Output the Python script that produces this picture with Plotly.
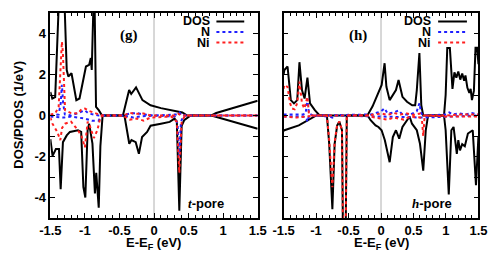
import plotly.graph_objects as go

# ---------------- panel (g): t-pore ----------------
g_dos_up_e = [-1.5, -1.472, -1.43, -1.372, -1.30, -1.263, -1.24, -1.194, -1.124, -1.078, -0.985, -0.939,
              -0.915, -0.901, -0.872, -0.862, -0.839, -0.80, -0.752, -0.45, -0.40, -0.36, -0.33, -0.26,
              -0.167, -0.05, 0.1, 0.25, 0.41, 0.48, 0.83, 0.9, 1.2, 1.5]
g_dos_up_v = [1.15, 0.83, 0.9, 6, 6, 2.22, 1.9, 2.06, 0.75, 0.83, 2.39, 2.47,
              2.8, 2.22, 6, 6, 0.42, 0.26, 0, 0, 0.7, 1.24, 1.05, 1.37,
              0.75, 0.5, 0.36, 0.26, 0.15, 0, 0, 0.12, 0.42, 0.72]
g_dos_dn_e = [-1.5, -1.468, -1.42, -1.375, -1.351, -1.329, -1.318, -1.263, -1.217, -1.1, -1.054, -1.022,
              -0.994, -0.961, -0.939, -0.891, -0.855, -0.836, -0.8, -0.776, -0.744, -0.428, -0.358, -0.326,
              -0.265, -0.219, -0.173, -0.1, -0.05, 0.1, 0.227, 0.297, 0.33, 0.366, 0.40, 0.436, 0.53,
              0.83, 1.0, 1.2, 1.5]
g_dos_dn_v = [-1.15, -1.97, -1.64, -1.64, -3.6, -1.47, -1.3, -0.97, -0.8, -0.72, -0.8, -3.5,
              -4.0, -0.72, -0.4, -1.37, -3.8, -2.8, -4.5, -1.5, 0, 0, -1.38, -1.2,
              -1.3, -1.87, -1.05, -0.8, -0.5, -0.4, -0.31, -0.15, -0.3, -4.65, -0.5, -0.23, 0,
              0, -0.17, -0.38, -0.65]
g_n_up_e = [-1.5, -1.38, -1.35, -1.333, -1.315, -1.29, -1.2, -1.05, -1.0, -0.95, -0.8, -0.45, -0.35,
            -0.25, -0.15, 0.0, 0.33, 0.37, 0.40, 1.5]
g_n_up_v = [0.0, 0.05, 0.6, 1.5, 0.6, 0.05, 0.0, 0.2, 0.25, 0.1, 0, 0, 0.1,
            0.12, 0.05, 0, 0.05, 0.15, 0, 0]
g_ni_up_e = [-1.5, -1.43, -1.38, -1.347, -1.333, -1.319, -1.30, -1.287, -1.2, -1.1, -1.05, -1.0, -0.94,
             -0.85, -0.75, -0.45, -0.35, -0.25, -0.15, -0.05, 0.3, 0.35, 0.4, 1.5]
g_ni_up_v = [0.05, 0.1, 0.42, 2.4, 3.6, 3.1, 1.08, 0.26, 0.12, 0.1, 0.3, 0.34, 0.22,
             0.1, 0, 0, 0.12, 0.08, 0.1, 0.0, 0, 0.08, 0, 0]
g_n_dn_e = [-1.5, -1.3, -1.2, -1.1, -1.0, -0.9, -0.8, -0.77, -0.74, -0.45, -0.3, -0.2, 0.0, 0.3,
            0.34, 0.366, 0.39, 0.43, 1.5]
g_n_dn_v = [-0.05, -0.1, -0.05, -0.1, -0.15, -0.25, -0.25, -0.05, 0, 0, -0.1, -0.05, 0, -0.05,
            -0.4, -2.0, -0.3, 0, 0]
g_ni_dn_e = [-1.5, -1.47, -1.40, -1.356, -1.33, -1.287, -1.2, -1.1, -1.05, -1.0, -0.96, -0.93, -0.87,
             -0.82, -0.776, -0.74, -0.45, -0.35, -0.25, -0.15, -0.05, 0.25, 0.33, 0.366, 0.40, 0.45, 1.5]
g_ni_dn_v = [-0.1, -0.4, -0.8, -1.2, -0.6, -0.4, -0.3, -0.72, -1.0, -1.55, -0.3, -0.5, -1.1,
             -0.72, -0.1, 0, 0, -0.2, -0.15, -0.25, -0.1, -0.05, -0.3, -2.8, -0.3, 0, 0]

# ---------------- panel (h): h-pore ----------------
h_dos_up_e = [-1.5, -1.488, -1.439, -1.389, -1.34, -1.29, -1.256, -1.217, -1.177, -1.133, -1.093, -1.019,
              -0.945, -0.21, -0.13, -0.04, 0.01, 0.055, 0.083, 0.133, 0.23, 0.27, 0.33, 0.40, 0.48, 0.526,
              0.551, 0.591, 0.62, 0.65, 0.97, 0.995, 1.02, 1.06, 1.10, 1.13, 1.16, 1.19, 1.22, 1.25, 1.28,
              1.30, 1.33, 1.36, 1.38, 1.40, 1.43, 1.455, 1.48, 1.5]
h_dos_up_v = [2.0, 2.22, 2.39, 0.75, 0.59, 0.75, 2.6, 1.24, 0.83, 1.85, 0.59, 0.26,
              0, 0, 0.45, 1.08, 1.49, 2.55, 1.4, 0.75, 1.24, 1.73, 0.91, 0.67, 0.5, 0.5,
              1.24, 3.05, 0.5, 0, 0, 1.0, 3.29, 3.29, 1.3, 2.1, 1.85, 2.15, 1.75, 2.05, 1.7,
              1.95, 1.35, 1.1, 1.3, 0.75, 1.2, 3.3, 3.3, 2.5]
h_dos_dn_e = [-1.5, -1.487, -1.266, -1.167, -1.12, -1.05, -0.995, -0.833, -0.798, -0.749, -0.714, -0.675,
              -0.641, -0.601, -0.585, -0.545, -0.527, -0.207, -0.16, -0.084, -0.04, 0.009, 0.059, 0.133,
              0.182, 0.23, 0.28, 0.33, 0.403, 0.44, 0.477, 0.551, 0.6, 0.65, 0.689, 0.724, 0.97, 0.995,
              1.043, 1.083, 1.117, 1.167, 1.19, 1.216, 1.25, 1.29, 1.338, 1.412, 1.462, 1.486, 1.5]
h_dos_dn_v = [-0.75, -0.72, -0.48, -0.31, -0.2, -0.1, 0, 0, -1.38, -4.57, -1.38, -0.48,
              -0.31, -0.72, -6, -6, 0, 0, -0.23, -0.48, -0.56, -0.72, -1.21, -2.28,
              -1.05, -0.72, -1.13, -0.56, -0.23, -0.05, -0.4, -0.72, -1.38, -2.69, -0.72, 0, 0, -0.72,
              -3.85, -0.72, -0.56, -1.87, -1.2, -1.7, -1.4, -1.5, -0.88, -0.72, -3.4, -1.37, -1.0]
h_n_up_e = [-1.5, -1.2, -1.16, -1.133, -1.11, -1.05, -0.15, 0.0, 0.055, 0.1, 0.2, 0.27, 0.33, 0.45,
            0.55, 0.591, 0.62, 0.65, 1.0, 1.05, 1.1, 1.2, 1.3, 1.4, 1.5]
h_n_up_v = [0.05, 0.05, 0.1, 0.83, 0.1, 0.0, 0.05, 0.2, 0.35, 0.1, 0.15, 0.25, 0.05, 0.05,
            0.2, 0.6, 0.1, 0, 0.05, 0.15, 0.05, 0.1, 0.05, 0.12, 0.05]
h_ni_up_e = [-1.5, -1.488, -1.44, -1.40, -1.37, -1.33, -1.29, -1.256, -1.217, -1.18, -1.133, -1.11,
             -1.08, -0.2, -0.1, 0.0, 0.1, 0.2, 0.3, 0.4, 0.5, 0.6, 0.65, 1.0, 1.2, 1.4, 1.5]
h_ni_up_v = [1.3, 1.49, 1.4, 0.6, 0.34, 0.3, 0.6, 1.65, 0.6, 0.34, 0.91, 0.1,
             0, 0, 0.05, 0.1, 0.03, 0.12, 0.05, 0.1, 0.03, 0.1, 0, 0, 0.05, 0.03, 0.05]
h_n_dn_e = [-1.5, -1.2, -1.15, -1.133, -1.11, -1.0, -0.8, -0.75, -0.7, 0.0, 0.65, 1.5]
h_n_dn_v = [-0.05, -0.05, -0.1, -0.3, -0.05, 0, -0.05, -0.1, 0, -0.05, -0.1, 0]
h_ni_dn_e = [-1.5, -1.3, -1.15, -1.0, -0.833, -0.798, -0.749, -0.714, -0.675, -0.641, -0.601, -0.585,
             -0.545, -0.527, -0.2, -0.1, 0.0, 0.1, 0.2, 0.35, 0.45, 0.6, 0.63, 0.65, 0.67, 0.7, 1.0, 1.5]
h_ni_dn_v = [-0.05, -0.1, -0.05, 0, 0, -1.2, -3.5, -1.3, -0.45, -0.3, -0.7, -6,
             -6, 0, 0, -0.1, -0.15, -0.2, -0.1, -0.2, -0.05, -0.1, -0.2, -1.0, -0.1, 0, -0.05, -0.05]

x_ticks = [-1.5, -1, -0.5, 0, 0.5, 1, 1.5]
x_tick_text = ["-1.5", "-1", "-0.5", "0", "0.5", "1", "1.5"]
y_ticks = [-4, -2, 0, 2, 4]
y_tick_text = ["-4", "-2", "0", "2", "4"]

BLACK = "#000000"
BLUE = "#1f1fff"
RED = "#ff1f1f"
W = 498
H = 264

fig = go.Figure()

panels = [
    ("x", "y", [(g_dos_up_e, g_dos_up_v, g_dos_dn_e, g_dos_dn_v, BLACK, "solid", 2.0),
                (g_n_up_e, g_n_up_v, g_n_dn_e, g_n_dn_v, BLUE, "dot", 2.0),
                (g_ni_up_e, g_ni_up_v, g_ni_dn_e, g_ni_dn_v, RED, "dot", 2.0)]),
    ("x2", "y2", [(h_dos_up_e, h_dos_up_v, h_dos_dn_e, h_dos_dn_v, BLACK, "solid", 2.0),
                  (h_n_up_e, h_n_up_v, h_n_dn_e, h_n_dn_v, BLUE, "dot", 2.0),
                  (h_ni_up_e, h_ni_up_v, h_ni_dn_e, h_ni_dn_v, RED, "dot", 2.0)]),
]
for xa, ya, series in panels:
    for ue, uv, de, dv, col, dash, wid in series:
        for ex, vv in ((ue, uv), (de, dv)):
            fig.add_trace(go.Scatter(x=ex, y=vv, mode="lines", xaxis=xa, yaxis=ya,
                                     line=dict(color=col, width=wid, dash=dash),
                                     showlegend=False, hoverinfo="skip"))

tickfont = dict(family="Liberation Sans, Arial, sans-serif", size=13, color="black", weight="bold")
ydom = [1 - 218 / H, 1 - 13 / H]
common_x = dict(range=[-1.5, 1.5], tickmode="array", tickvals=x_ticks, ticktext=x_tick_text,
                ticks="inside", ticklen=5, tickwidth=1, tickcolor="black", mirror="allticks",
                showline=True, linecolor="black", linewidth=1.5, showgrid=False, zeroline=False,
                tickfont=tickfont, minor=dict(dtick=0.1, ticks="inside", ticklen=3, tickcolor="black"))
common_y = dict(range=[-5, 5], tickmode="array", tickvals=y_ticks, ticktext=y_tick_text,
                ticks="inside", ticklen=5, tickwidth=1, tickcolor="black", mirror="allticks",
                showline=True, linecolor="black", linewidth=1.5, showgrid=False, zeroline=False,
                tickfont=tickfont, domain=ydom,
                minor=dict(tickvals=[-5, -3, -1, 1, 3, 5], ticks="inside", ticklen=5, tickcolor="black"))

fig.update_layout(
    width=W, height=H, margin=dict(l=0, r=0, t=0, b=0),
    paper_bgcolor="white", plot_bgcolor="white",
    xaxis=dict(domain=[41 / W, 257 / W], anchor="y", **common_x),
    yaxis=dict(anchor="x", **common_y),
    xaxis2=dict(domain=[284 / W, 487 / W], anchor="y2", **common_x),
    yaxis2=dict(anchor="x2", showticklabels=False, **common_y),
)

# Fermi level lines
for xr, yr in (("x", "y domain"), ("x2", "y2 domain")):
    fig.add_shape(type="line", xref=xr, yref=yr, x0=0, x1=0, y0=0, y1=1,
                  line=dict(color="#b0b0b0", width=1), layer="below")

def py(p):
    return 1 - p / H

def px(p):
    return p / W

lab_font = dict(family="Liberation Sans, Arial, sans-serif", size=13, color="black", weight="bold")
leg_font = dict(family="Liberation Sans, Arial, sans-serif", size=12.5, color="black", weight="bold")
# legends
for text_right, line_x0, line_x1 in ((208, 214, 243), (439, 445, 475)):
    for label, ypix, col, dash in (("DOS", 21.5, BLACK, "solid"), ("N", 32, BLUE, "dot"), ("Ni", 42.5, RED, "dot")):
        fig.add_annotation(x=px(text_right), y=py(ypix), xref="paper", yref="paper", text=label,
                           showarrow=False, xanchor="right", yanchor="middle", font=leg_font,
                           borderpad=0)
        fig.add_shape(type="line", xref="paper", yref="paper", x0=px(line_x0), x1=px(line_x1),
                      y0=py(ypix), y1=py(ypix), line=dict(color=col, width=2, dash=dash))

serif = dict(family="Liberation Serif, DejaVu Serif, serif", size=15, color="black", weight="bold")
fig.add_annotation(x=px(123), y=py(35), xref="paper", yref="paper", text="(g)", showarrow=False,
                   xanchor="center", yanchor="middle", font=serif)
fig.add_annotation(x=px(361), y=py(35), xref="paper", yref="paper", text="(h)", showarrow=False,
                   xanchor="center", yanchor="middle", font=serif)

pore_font = dict(family="Liberation Sans, Arial, sans-serif", size=13, color="black", weight="bold")
fig.add_annotation(x=px(203), y=py(203), xref="paper", yref="paper",
                   text="<span style='font-family:Liberation Serif;font-style:italic'>t</span>-pore",
                   showarrow=False, xanchor="center", yanchor="middle", font=pore_font)
fig.add_annotation(x=px(439), y=py(203), xref="paper", yref="paper",
                   text="<span style='font-family:Liberation Serif;font-style:italic'>h</span>-pore",
                   showarrow=False, xanchor="center", yanchor="middle", font=pore_font)

# axis titles
fig.add_annotation(x=px(148), y=py(243), xref="paper", yref="paper", text="E-E<sub>F</sub> (eV)",
                   showarrow=False, xanchor="center", yanchor="middle", font=lab_font)
fig.add_annotation(x=px(386), y=py(243), xref="paper", yref="paper", text="E-E<sub>F</sub> (eV)",
                   showarrow=False, xanchor="center", yanchor="middle", font=lab_font)
fig.add_annotation(x=px(8), y=py(115), xref="paper", yref="paper", text="DOS/PDOS (1/eV)",
                   showarrow=False, xanchor="center", yanchor="middle", textangle=-90, font=lab_font)

fig.write_html("out.html", config={"displayModeBar": False},
               post_script="document.body.style.margin='0px';")
